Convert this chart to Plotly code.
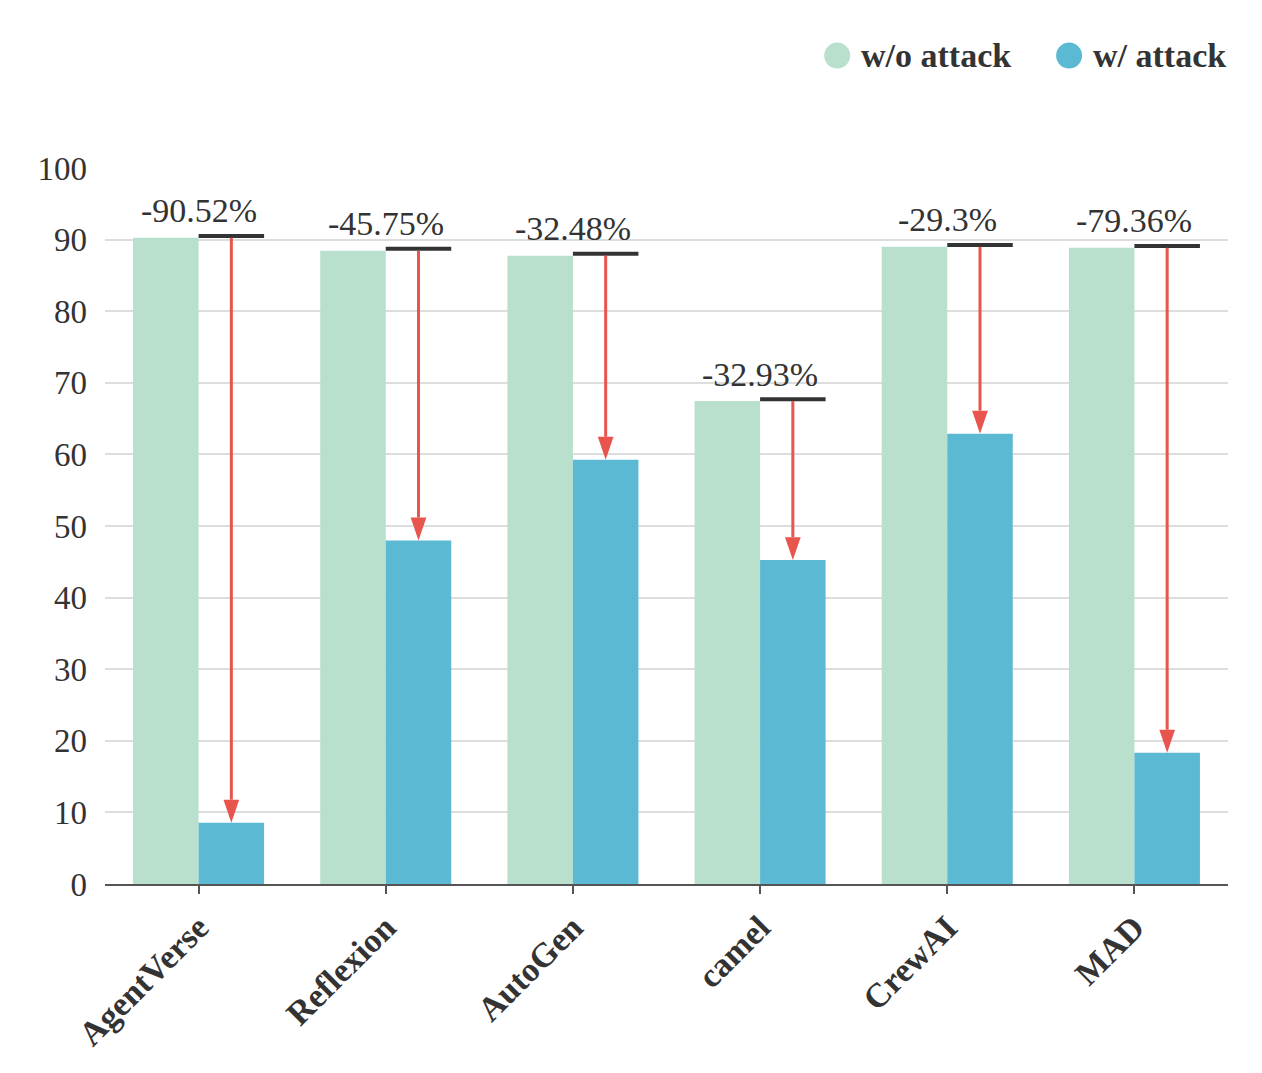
import plotly.graph_objects as go

# data
frameworks = ['AgentVerse', 'Reflexion', 'AutoGen', 'camel', 'CrewAI', 'MAD']
without_attack = [90.26, 88.46, 87.76, 67.45, 89.0, 88.87]
with_attack = [8.56, 47.99, 59.26, 45.24, 62.9, 18.34]
drop_labels = ['-90.52%', '-45.75%', '-32.48%', '-32.93%', '-29.3%', '-79.36%']
series_names = ['w/o attack', 'w/ attack']

C_WO = '#B8E0CD'
C_W = '#5BB9D3'
C_RED = '#E8554E'
C_DARK = '#333333'
FONT = 'Liberation Serif'

BAR_W = 0.35          # each bar, in category units
HEAD_H = 3.2          # arrow head height, y units
HEAD_HALF = 0.042     # arrow head half width, category units

fig = go.Figure()
xs = list(range(len(frameworks)))
fig.add_trace(go.Bar(x=xs, y=without_attack, name=series_names[0], marker_color=C_WO,
                     marker_line_width=0, showlegend=False, offset=-BAR_W, width=BAR_W))
fig.add_trace(go.Bar(x=xs, y=with_attack, name=series_names[1], marker_color=C_W,
                     marker_line_width=0, showlegend=False, offset=0, width=BAR_W))

shapes, annotations = [], []
for i, (hi, lo, lab) in enumerate(zip(without_attack, with_attack, drop_labels)):
    cx = i + BAR_W / 2
    # black reference line over the attacked bar
    shapes.append(dict(type='line', xref='x', yref='y', x0=i, x1=i + BAR_W,
                       y0=hi + 0.25, y1=hi + 0.25, line=dict(color=C_DARK, width=4)))
    # red shaft
    shapes.append(dict(type='line', xref='x', yref='y', x0=cx, x1=cx,
                       y0=hi, y1=lo + HEAD_H, line=dict(color=C_RED, width=3)))
    # arrow head
    shapes.append(dict(type='path', xref='x', yref='y',
                       path=f'M{cx - HEAD_HALF},{lo + HEAD_H} L{cx + HEAD_HALF},{lo + HEAD_H} L{cx},{lo} Z',
                       fillcolor=C_RED, line=dict(width=0)))
    annotations.append(dict(x=i, y=hi, xref='x', yref='y', text=lab, showarrow=False,
                            yshift=27, font=dict(size=34, color=C_DARK, family=FONT)))

# hand-built legend (big circles)
legend_items = [(series_names[0], C_WO, 0.652), (series_names[1], C_W, 0.8585)]
for name, col, lx in legend_items:
    shapes.append(dict(type='circle', xref='paper', yref='paper',
                       xsizemode='pixel', ysizemode='pixel', xanchor=lx, yanchor=1.157,
                       x0=-13, x1=13, y0=-13, y1=13, fillcolor=col, line=dict(width=0)))
    annotations.append(dict(x=lx, y=1.157, xref='paper', yref='paper', text=f'<b>{name}</b>',
                            showarrow=False, xanchor='left', yanchor='middle', xshift=22,
                            font=dict(size=34, color=C_DARK, family=FONT)))

fig.update_layout(
    width=1246, height=1057,
    margin=dict(l=97, r=26, t=160, b=176),
    paper_bgcolor='white', plot_bgcolor='white',
    font=dict(family=FONT, color=C_DARK),
    barmode='overlay', showlegend=False,
    shapes=shapes, annotations=annotations,
    xaxis=dict(tickmode='array', tickvals=xs, ticktext=frameworks,
               range=[-0.5, len(frameworks) - 0.5], tickangle=-45,
               showline=True, linecolor='#555555', linewidth=2,
               ticks='outside', ticklen=8, tickwidth=2, tickcolor='#555555',
               tickfont=dict(size=34, color=C_DARK, family=FONT, weight='bold'),
               showgrid=False, zeroline=False),
    yaxis=dict(range=[0, 100], dtick=10, showgrid=True, gridcolor='#DDDDDD', gridwidth=1.5,
               zeroline=False, showline=False, ticks='', ticklabelstandoff=17,
               tickfont=dict(size=33, color=C_DARK, family=FONT)),
)

fig.write_html('out.html')
